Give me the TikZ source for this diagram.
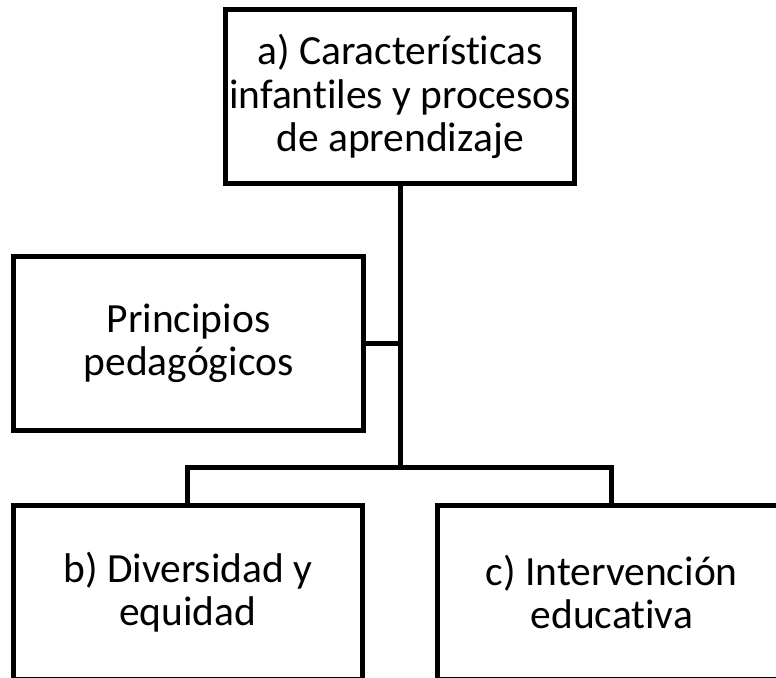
\documentclass[tikz,border=0pt]{standalone}
\usepackage{fontspec}
\setmainfont{Carlito}[Ligatures={NoCommon}]
\begin{document}
\begin{tikzpicture}[x=1pt,y=-1pt,
  box/.style={draw=black, line width=5pt, rectangle, align=center, inner sep=0pt,
    font=\fontsize{41.5}{43.5}\selectfont},
  link/.style={draw=black, line width=5pt}]
\useasboundingbox (0,0) rectangle (776,677);
\clip (0,0) rectangle (776,677);
\node[box, minimum width=349.5pt, minimum height=174pt] (top) at (400,96.5)
  {a) Características\\infantiles y procesos\\de aprendizaje};
\node[box, minimum width=350pt, minimum height=173.5pt] (pp) at (188.5,343.25)
  {Principios\\pedagógicos};
\node[box, minimum width=348.5pt, minimum height=174pt] (b) at (187.75,592)
  {b) Diversidad y\\equidad};
\node[box, minimum width=349.5pt, minimum height=174pt] (c) at (611.75,592)
  {c) Intervención\\educativa};
\coordinate (bus) at (400,467);
\draw[link] (top.south) -- (bus);
\draw[link] (pp.east) -- (pp.east -| top.south);
\draw[link] (b.north) |- (bus) -| (c.north);
\end{tikzpicture}
\end{document}
